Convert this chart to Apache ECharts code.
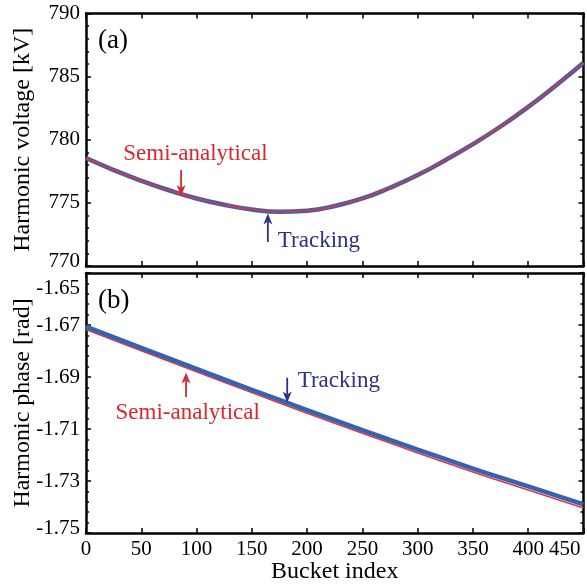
<!DOCTYPE html>
<html>
<head>
<meta charset="utf-8">
<script src="https://cdn.jsdelivr.net/npm/echarts@6/dist/echarts.min.js"></script>
<style>
html,body{margin:0;padding:0;background:#fff;}
#chart{width:587px;height:584px;}
</style>
</head>
<body>
<div id="chart"></div>
<script>
// ---- data ----
const bucketA = [0,25,50,75,100,125,150,175,200,225,250,275,300,325,350,375,400,425,450];
const voltageTracking = [778.55,777.6,776.75,776.0,775.35,774.85,774.48,774.3,774.38,774.75,775.35,776.2,777.2,778.38,779.65,781.05,782.6,784.3,786.1];
const voltageSemi = voltageTracking.slice();
const bucketB = [0,50,100,150,200,250,300,350,400,450];
const phaseTracking = [-1.6706,-1.6788,-1.6869,-1.6949,-1.7027,-1.7104,-1.7179,-1.7252,-1.7321,-1.7390];
const phaseSemi = [-1.6717,-1.6799,-1.6880,-1.6960,-1.7039,-1.7116,-1.7192,-1.7265,-1.7335,-1.7404];
const lastTick = 450;

// annotation anchors (data coordinates)
const annA = {semiText:[99,778.85], semiArrow:[86,777.6,775.55], trkText:[173.5,772.0], trkArrow:[164.5,771.9,774.15]};
const annB = {trkText:[191.5,-1.6915], trkArrow:[182,-1.6903,-1.6998], semiText:[92,-1.7038], semiArrow:[90.5,-1.6977,-1.6883]};

const RED = '#e3343b', BLUE = '#3563b2', REDTXT = '#d9272e', NAVY = '#2d3287';
const FONT = '"Liberation Serif","DejaVu Serif",serif';
const TICKFS = 21;

const chart = echarts.init(document.getElementById('chart'), null, {renderer:'canvas'});

function zip(xs, ys){ return xs.map((x,i)=>[x, ys[i]]); }

const gridA = {left:86, right:3.5, top:13.5, height:252.5, show:false, containLabel:false, outerBoundsMode:'none'};
const gridB = {left:86, right:3.5, top:273, height:260, show:false, containLabel:false, outerBoundsMode:'none'};

const tickStyle = {show:true, inside:true, length:5, lineStyle:{color:'#000', width:1.5}};
const minorStyle = {show:true, length:3, splitNumber:5, lineStyle:{color:'#000', width:1.5}};
const axisLineStyle = {show:true, onZero:false, lineStyle:{color:'#000', width:2.5}};

function xAxis(gridIndex, position, showLabel, name){
  return {
    type:'value', gridIndex, position, min:0, max:450, interval:50,
    axisLine: axisLineStyle, axisTick: tickStyle, splitLine:{show:false},
    axisLabel: {show:showLabel, margin:6, color:'#000', fontSize:TICKFS, fontFamily:FONT,
      showMinLabel:true, showMaxLabel:true, hideOverlap:false,
      formatter: v => v===lastTick ? '' : String(v)},
    name: name || '', nameLocation:'middle', nameGap:27, nameMoveOverlap:false,
    nameTextStyle:{fontSize:24, fontFamily:FONT, color:'#000'}
  };
}
function yAxis(gridIndex, position, min, max, interval, showLabel, name, fmt, rich){
  return {
    type:'value', gridIndex, position, min, max, interval,
    axisLine: axisLineStyle, axisTick: tickStyle, minorTick: minorStyle, splitLine:{show:false},
    axisLabel: {show:showLabel, margin:6, color:'#000', fontSize:TICKFS, fontFamily:FONT, formatter:fmt, rich,
      showMinLabel:true, showMaxLabel:true},
    name: name || '', nameLocation:'middle', nameGap:51, nameMoveOverlap:false,
    nameTextStyle:{fontSize:24, fontFamily:FONT, color:'#000'}
  };
}

const richY = {
  lo:{padding:[0,0,9,0], fontSize:TICKFS, fontFamily:FONT, color:'#000'},
  hi:{padding:[30,0,0,0], fontSize:TICKFS, fontFamily:FONT, color:'#000'}
};
const fmtA = v => v===770 ? '{lo|770}' : String(v);
const fmtB = v => {
  const s = v.toFixed(2);
  if (Math.abs(v+1.65)<1e-6) return '{hi|'+s+'}';
  if (Math.abs(v+1.75)<1e-6) return '{lo|'+s+'}';
  return s;
};

const option = {
  backgroundColor:'#fff',
  animation:false,
  grid:[gridA, gridB],
  xAxis:[
    xAxis(0,'bottom',false), xAxis(0,'top',false),
    xAxis(1,'bottom',true,'Bucket index'), xAxis(1,'top',false)
  ],
  yAxis:[
    yAxis(0,'left',770,790,5,true,'Harmonic voltage [kV]',fmtA,richY),
    yAxis(0,'right',770,790,5,false),
    yAxis(1,'left',-1.75,-1.65,0.02,true,'Harmonic phase [rad]',fmtB,richY),
    yAxis(1,'right',-1.75,-1.65,0.02,false)
  ],
  series:[
    {type:'line', xAxisIndex:0, yAxisIndex:0, data:zip(bucketA, voltageTracking), smooth:true, showSymbol:false,
      lineStyle:{color:BLUE, width:4.5}, z:2},
    {type:'line', xAxisIndex:0, yAxisIndex:0, data:zip(bucketA, voltageSemi), smooth:true, showSymbol:false,
      lineStyle:{color:RED, width:1.6}, z:3},
    {type:'line', xAxisIndex:2, yAxisIndex:2, data:zip(bucketB, phaseSemi), smooth:true, showSymbol:false,
      lineStyle:{color:RED, width:1.6}, z:2},
    {type:'line', xAxisIndex:2, yAxisIndex:2, data:zip(bucketB, phaseTracking), smooth:true, showSymbol:false,
      lineStyle:{color:BLUE, width:4.5}, z:3}
  ]
};
chart.setOption(option);

// annotations via library coordinate conversion
function px(gridIndex, pt){ return chart.convertToPixel({gridIndex}, pt); }
function arrowEls(gridIndex, a, color){
  const p0 = px(gridIndex, [a[0], a[1]]);
  const p1 = px(gridIndex, [a[0], a[2]]);
  const dir = p1[1] > p0[1] ? 1 : -1;
  const headLen = 11, headW = 4.5, notch = 3;
  const base = p1[1] - dir*headLen;
  return [
    {type:'line', shape:{x1:p0[0], y1:p0[1], x2:p0[0], y2:base + dir*notch}, style:{stroke:color, lineWidth:1.8}, z:10},
    {type:'polygon', shape:{points:[[p1[0]-headW, base],[p1[0], base + dir*notch],[p1[0]+headW, base],[p1[0], p1[1]]]}, style:{fill:color}, z:10}
  ];
}
function textEl(gridIndex, pt, text, color, align){
  const p = px(gridIndex, pt);
  return {type:'text', x:p[0], y:p[1], z:10,
    style:{text, fill:color, fontSize:23, fontFamily:FONT, align:align, verticalAlign:'middle'}};
}
const g = [
  {type:'text', x:98, y:41, style:{text:'(a)', fontSize:27, fontFamily:FONT, fill:'#000', verticalAlign:'middle'}},
  {type:'text', x:98, y:301, style:{text:'(b)', fontSize:27, fontFamily:FONT, fill:'#000', verticalAlign:'middle'}}
];
// last x tick label, pulled inside the frame as in the original figure
const pLast = px(1, [lastTick, -1.75]);
g.push({type:'text', x:pLast[0] - 3, y:pLast[1] + 6, z:10,
  style:{text:String(lastTick), fill:'#000', fontSize:TICKFS, fontFamily:FONT, align:'right', verticalAlign:'top'}});
g.push(...arrowEls(0, annA.semiArrow, REDTXT));
g.push(...arrowEls(0, annA.trkArrow, NAVY));
g.push(textEl(0, annA.semiText, 'Semi-analytical', REDTXT, 'center'));
g.push(textEl(0, annA.trkText, 'Tracking', NAVY, 'left'));
g.push(...arrowEls(1, annB.trkArrow, NAVY));
g.push(...arrowEls(1, annB.semiArrow, REDTXT));
g.push(textEl(1, annB.trkText, 'Tracking', NAVY, 'left'));
g.push(textEl(1, annB.semiText, 'Semi-analytical', REDTXT, 'center'));
chart.setOption({graphic:g});
</script>
</body>
</html>
